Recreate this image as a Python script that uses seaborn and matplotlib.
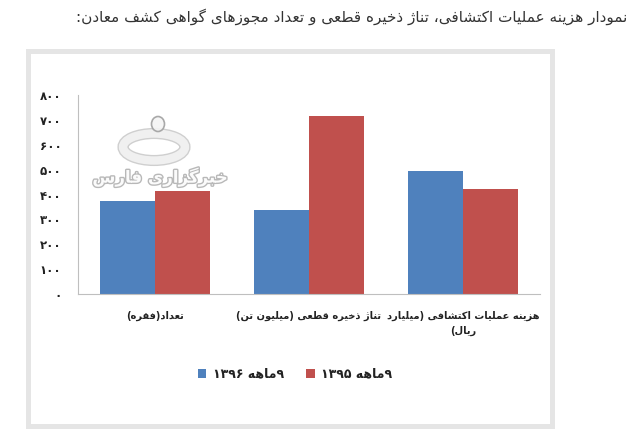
import re
import matplotlib
matplotlib.use('Agg')
import matplotlib.pyplot as plt
import matplotlib.patheffects as pe
import pandas as pd
import seaborn as sns
from matplotlib.patches import Rectangle, Ellipse

# Data
categories = ['تعداد(فقره)', 'تناژ ذخیره قطعی (میلیون تن)', 'هزینه عملیات اکتشافی (میلیارد\nریال)']
series_names = ['۹ماهه ۱۳۹۶', '۹ماهه ۱۳۹۵']
values_1396 = [375, 337, 495]
values_1395 = [415, 716, 421]
yticks = [0, 100, 200, 300, 400, 500, 600, 700, 800]
title = 'نمودار هزینه عملیات اکتشافی، تناژ ذخیره قطعی و تعداد مجوزهای گواهی کشف معادن:'
watermark = 'خبرگزاری فارس'

# minimal Persian shaping (matplotlib has no complex text layout)
FORMS = {
    'ا': ('\uFE8D', '\uFE8E', None, None),
    'ب': ('\uFE8F', '\uFE90', '\uFE91', '\uFE92'),
    'ت': ('\uFE95', '\uFE96', '\uFE97', '\uFE98'),
    'ج': ('\uFE9D', '\uFE9E', '\uFE9F', '\uFEA0'),
    'خ': ('\uFEA5', '\uFEA6', '\uFEA7', '\uFEA8'),
    'د': ('\uFEA9', '\uFEAA', None, None),
    'ذ': ('\uFEAB', '\uFEAC', None, None),
    'ر': ('\uFEAD', '\uFEAE', None, None),
    'ز': ('\uFEAF', '\uFEB0', None, None),
    'ژ': ('\uFB8A', '\uFB8B', None, None),
    'س': ('\uFEB1', '\uFEB2', '\uFEB3', '\uFEB4'),
    'ش': ('\uFEB5', '\uFEB6', '\uFEB7', '\uFEB8'),
    'ط': ('\uFEC1', '\uFEC2', '\uFEC3', '\uFEC4'),
    'ع': ('\uFEC9', '\uFECA', '\uFECB', '\uFECC'),
    'ف': ('\uFED1', '\uFED2', '\uFED3', '\uFED4'),
    'ق': ('\uFED5', '\uFED6', '\uFED7', '\uFED8'),
    'ک': ('\uFB8E', '\uFB8F', '\uFB90', '\uFB91'),
    'گ': ('\uFB92', '\uFB93', '\uFB94', '\uFB95'),
    'ل': ('\uFEDD', '\uFEDE', '\uFEDF', '\uFEE0'),
    'م': ('\uFEE1', '\uFEE2', '\uFEE3', '\uFEE4'),
    'ن': ('\uFEE5', '\uFEE6', '\uFEE7', '\uFEE8'),
    'ه': ('\uFEE9', '\uFEEA', '\uFEEB', '\uFEEC'),
    'و': ('\uFEED', '\uFEEE', None, None),
    'ی': ('\uFBFC', '\uFBFD', '\uFBFE', '\uFBFF'),
}


def shape_line(s):
    out = []
    for i, c in enumerate(s):
        if c not in FORMS:
            out.append(c)
            continue
        iso, fin, ini, med = FORMS[c]
        prev = s[i - 1] if i > 0 else ''
        nxt = s[i + 1] if i < len(s) - 1 else ''
        jp = prev in FORMS and FORMS[prev][2] is not None
        jn = ini is not None and nxt in FORMS
        out.append(med if jp and jn else fin if jp else ini if jn else iso)
    vis = ''.join(out)[::-1]
    vis = vis.translate(str.maketrans('()', ')('))
    vis = re.sub(r'[0-9\u06F0-\u06F9]+', lambda m: m.group()[::-1], vis)
    return vis


def fa(s):
    return '\n'.join(shape_line(line) for line in s.split('\n'))


def fa_num(n):
    return str(n).translate(str.maketrans('0123456789', '۰۱۲۳۴۵۶۷۸۹'))


df = pd.DataFrame({
    'cat': [fa(c) for c in categories] * 2,
    'series': [fa(series_names[0])] * 3 + [fa(series_names[1])] * 3,
    'value': values_1396 + values_1395,
})

sns.set_style('white')
plt.rcParams['font.family'] = ['DejaVu Sans']

fig = plt.figure(figsize=(6.36, 4.30), dpi=100)
fig.patch.set_facecolor('white')
ax = fig.add_axes([78 / 636, 1 - 294 / 430, (540 - 78) / 636, (294 - 95) / 430])

sns.barplot(data=df, x='cat', y='value', hue='series',
            palette=['#4F81BD', '#C0504D'], width=0.72, gap=0,
            saturation=1, linewidth=0, ax=ax, legend=True)

ax.set_ylim(0, 800)
ax.set_xlim(-0.5, 2.5)
ax.set_yticks(yticks)
ax.set_yticklabels([fa_num(t) for t in yticks], fontsize=8.5, fontweight='bold', color='#222222')
ax.tick_params(axis='y', length=0, pad=12)
ax.set_xticks([-0.5, 0.5, 1.5, 2.5], minor=True)
ax.tick_params(axis='x', which='minor', length=5, color='#bfbfbf', width=0.8)
ax.tick_params(axis='x', which='major', length=0, pad=12)
for lab in ax.get_xticklabels():
    lab.set_fontsize(7.1)
    lab.set_fontweight('bold')
    lab.set_color('#222222')
    lab.set_verticalalignment('top')
    lab.set_linespacing(1.6)
ax.set_xlabel('')
ax.set_ylabel('')
for side in ['top', 'right']:
    ax.spines[side].set_visible(False)
for side in ['left', 'bottom']:
    ax.spines[side].set_color('#bfbfbf')
    ax.spines[side].set_linewidth(0.8)

leg = ax.legend(loc='center', bbox_to_anchor=(295 / 636, 1 - 374 / 430),
                bbox_transform=fig.transFigure, ncol=2, frameon=False,
                fontsize=9, handlelength=0.7, handleheight=0.7,
                handletextpad=0.5, columnspacing=1.8)
for t in leg.get_texts():
    t.set_fontweight('bold')
    t.set_color('#222222')

# watermark (news agency logo, drawn roughly)
ring = Ellipse((154 / 636, 1 - 147 / 430), 62 / 636, 27 / 430, transform=fig.transFigure,
               facecolor='none', edgecolor='#f4f4f4', linewidth=6, alpha=0.9,
               path_effects=[pe.withStroke(linewidth=8, foreground='#a0a0a0', alpha=0.5)])
fig.patches.append(ring)
drop = Ellipse((158 / 636, 1 - 124 / 430), 13 / 636, 15 / 430, transform=fig.transFigure,
               facecolor='#f4f4f4', edgecolor='#a0a0a0', linewidth=1.2, alpha=0.9)
fig.patches.append(drop)
fig.text(160 / 636, 1 - 177 / 430, fa(watermark), ha='center', va='center',
         fontsize=12, fontweight='bold', color='white', alpha=0.95,
         path_effects=[pe.withStroke(linewidth=2.0, foreground='#8a8a8a', alpha=0.6)])

fig.text(627 / 636, 1 - 17 / 430, fa(title), ha='right', va='center',
         fontsize=11, color='#333333')

fig.patches.append(Rectangle((28.5 / 636, 1 - 425.5 / 430), (552 - 28.5) / 636,
                             (425.5 - 50.5) / 430, transform=fig.transFigure,
                             fill=False, edgecolor='#e5e5e5', linewidth=3.6))

fig.savefig('out.png', dpi=100)
